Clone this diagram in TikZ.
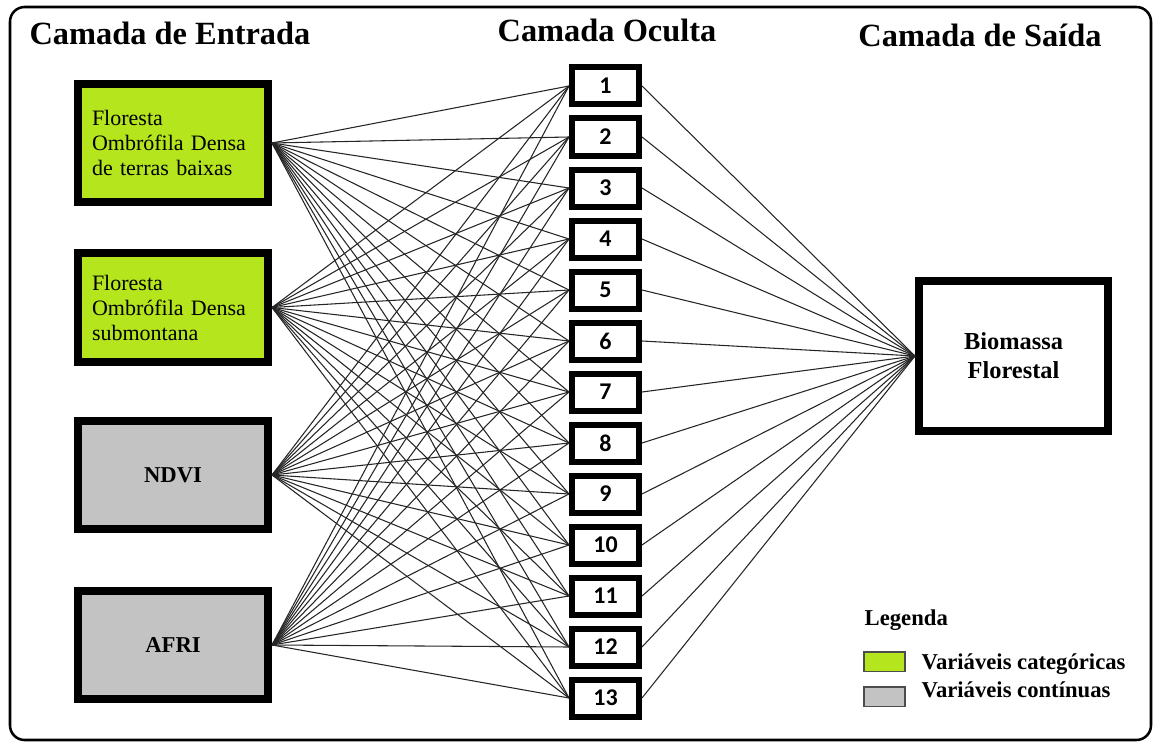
\documentclass[tikz,border=0pt]{standalone}
\usepackage{fontspec}
\setmainfont{Liberation Serif}
\newfontfamily\numfont{Carlito}
\usetikzlibrary{positioning}
\definecolor{catgreen}{HTML}{B5E61D}
\definecolor{congray}{HTML}{C3C3C3}
\tikzset{
    layertitle/.style={font=\fontsize{24.3}{28}\selectfont\bfseries, anchor=base},
    inbox/.style={draw, line width=6pt, minimum width=142.5pt, minimum height=81.5pt, inner sep=0pt},
    cattext/.style={text width=121.5pt, align=left, font=\fontsize{16.5}{18.75}\selectfont},
    context/.style={font=\fontsize{17}{20}\selectfont\bfseries},
    hidbox/.style={draw, line width=4.5pt, minimum width=50.25pt, minimum height=27.75pt, inner sep=0pt, font=\numfont\fontsize{18}{20}\selectfont\bfseries},
    outbox/.style={draw, line width=6pt, minimum width=141.75pt, minimum height=112.5pt, align=center, font=\fontsize{18.3}{21.75}\selectfont\bfseries},
    link/.style={line width=0.8pt, black!85},
    swatch/.style={draw=black!70, line width=1.1pt, minimum width=31pt, minimum height=14.6pt, inner sep=0pt},
    legtext/.style={font=\fontsize{17}{20}\selectfont\bfseries, anchor=base west}
}
\begin{document}
\begin{tikzpicture}[x=0.75pt, y=-0.75pt]
    \useasboundingbox (0,0) rectangle (1157,742);
    \draw[line width=1.9pt, rounded corners=11pt] (10,7) rectangle (1151,740);
    % titulos das camadas
    \node[layertitle] (tin) at (170,45) {Camada de Entrada};
    \node[layertitle] (thid) at (607,42) {Camada Oculta};
    \node[layertitle] (tout) at (980,47) {Camada de Saída};
    % camada de entrada
    \node[inbox, cattext, fill=catgreen, minimum height=88.5pt] (fodtb) at (173,143) {Floresta\\Ombrófila Densa\\de terras baixas};
    \node[inbox, cattext, fill=catgreen] (fods) at (173,307.5) {Floresta\\Ombrófila Densa\\submontana};
    \node[inbox, context, fill=congray] (ndvi) at (173,475) {NDVI};
    \node[inbox, context, fill=congray] (afri) at (173,645) {AFRI};
    % camada oculta
    \foreach \i in {1,...,13}
        \node[hidbox] (h\i) at (605.5, 35 + 51*\i) {\i};
    % camada de saida
    \node[outbox] (bf) at (1013.5,356) {Biomassa\\Florestal};
    % ligacoes
    \foreach \i in {1,...,13} {
        \draw[link] (fodtb.east) -- (h\i.west);
        \draw[link] (fods.east) -- (h\i.west);
        \draw[link] (ndvi.east) -- (h\i.west);
        \draw[link] (afri.east) -- (h\i.west);
        \draw[link] (h\i.east) -- (bf.west);
    }
    % legenda
    \node[legtext] (leg) at (860,625) {Legenda};
    \node[swatch, fill=catgreen] (swcat) at (884.5,661.5) {};
    \node[swatch, fill=congray] (swcon) at (884.5,696.5) {};
    \node[legtext] (tcat) at (917,669) {Variáveis categóricas};
    \node[legtext] (tcon) at (917,697) {Variáveis contínuas};
\end{tikzpicture}
\end{document}
